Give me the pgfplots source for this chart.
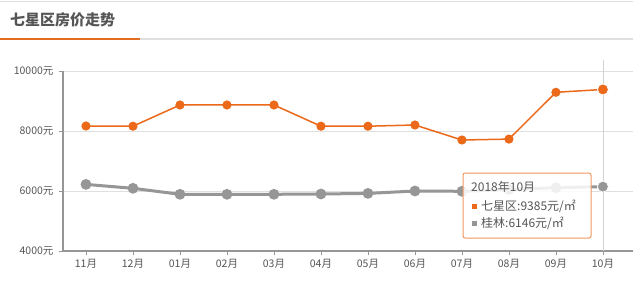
\documentclass[border=0pt]{standalone}
\usepackage{fontspec}
\setmainfont{Noto Sans CJK SC}
\usepackage{pgfplots}
\pgfplotsset{compat=1.18}
\definecolor{org}{RGB}{235,105,25}
\definecolor{gr}{RGB}{150,150,150}
\definecolor{txt}{RGB}{85,85,85}
\begin{document}
\begin{tikzpicture}[x=1pt,y=1pt]
\useasboundingbox (0,0) rectangle (633,290);
\fill[white] (0,0) rectangle (633,290);
\draw[gray!25, line width=1] (0,288.5) -- (633,288.5);
\draw[gray!25, line width=2] (0,251) -- (633,251);
\draw[org!80!brown, line width=2.5] (0,251) -- (140,251);
\node[anchor=west, font=\fontsize{15}{15}\selectfont\bfseries, text=txt, inner sep=0] at (10,270) {七星区房价走势};
\begin{axis}[
  at={(63pt,39pt)}, anchor=south west,
  scale only axis, width=570pt, height=180pt,
  xmin=-0.489, xmax=11.64, ymin=4000, ymax=10000,
  axis x line=bottom, axis y line=left,
  axis line style={-, gr, line width=1.5pt},
  ymajorgrids, grid style={gray!25, line width=0.8pt},
  scaled y ticks=false,
  xtick={0,...,11},
  xticklabels={11月,12月,01月,02月,03月,04月,05月,06月,07月,08月,09月,10月},
  ytick={4000,6000,8000,10000},
  yticklabels={4000元,6000元,8000元,10000元},
  tick align=outside, major tick length=4pt,
  tick style={gr, line width=0.8pt},
  ticklabel style={font=\fontsize{10.5}{11}\selectfont, text=txt},
  xticklabel style={yshift=-1pt},
  yticklabel style={xshift=-2pt},
  clip=false,
]
\draw[gray!35, line width=0.8pt] (axis cs:11,4000) -- (axis cs:11,10380);
\addplot[gr, line width=3pt, mark=*, mark size=3.8pt, mark options={fill=gr, draw=none}] coordinates {
(0,6220) (1,6090) (2,5890) (3,5890) (4,5890) (5,5900) (6,5920) (7,6000) (8,5990) (9,6050) (10,6110) (11,6146)};
\addplot[gr, only marks, mark=*, mark size=5.5pt, mark options={fill=gr, draw=white, line width=0.8pt}] coordinates {(11,6146)};
\addplot[org, line width=1.5pt, mark=*, mark size=3.8pt, mark options={fill=org, draw=none}] coordinates {
(0,8167) (1,8160) (2,8867) (3,8867) (4,8867) (5,8160) (6,8160) (7,8200) (8,7700) (9,7730) (10,9290) (11,9385)};
\addplot[org, only marks, mark=*, mark size=5.5pt, mark options={fill=org, draw=white, line width=0.8pt}] coordinates {(11,9385)};
\end{axis}
\draw[org!70, fill=white, fill opacity=0.85, rounded corners=2pt, line width=1pt] (463,52) rectangle (591,117);
\node[anchor=west, font=\fontsize{12}{12}\selectfont, text=txt, inner sep=0] at (471,103) {2018年10月};
\fill[org] (472,81.5) rectangle (477,86.5);
\node[anchor=west, font=\fontsize{12}{12}\selectfont, text=txt, inner sep=0] at (481,84) {七星区:9385元/㎡};
\fill[gr] (472,64.5) rectangle (477,69.5);
\node[anchor=west, font=\fontsize{12}{12}\selectfont, text=txt, inner sep=0] at (481,67) {桂林:6146元/㎡};
\end{tikzpicture}
\end{document}
